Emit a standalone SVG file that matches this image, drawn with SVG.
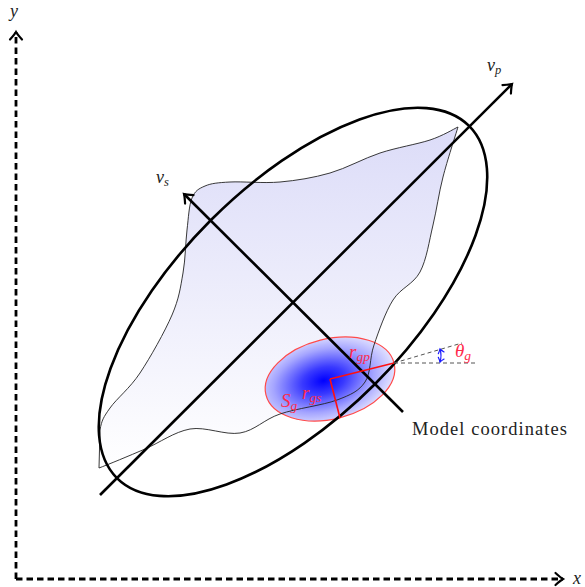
<svg xmlns="http://www.w3.org/2000/svg" width="585" height="587" viewBox="0 0 585 587">
<style>
.axis{fill:none;stroke:#000;stroke-width:2.8;stroke-dasharray:6.5 4}
.thick{fill:none;stroke:#000;stroke-width:2.6}
.math{font-family:"Liberation Serif","DejaVu Serif",serif;font-style:italic;fill:#222}
.plain{font-family:"Liberation Serif","DejaVu Serif",serif;fill:#222}
.red{font-family:"Liberation Serif","DejaVu Serif",serif;font-style:italic;fill:#ff2a4a}
.rline{fill:none;stroke:#ff1010;stroke-width:1.6}
.dash{fill:none;stroke:#555;stroke-width:1;stroke-dasharray:4 3}
</style>
<defs>
<marker id="ah" markerUnits="userSpaceOnUse" markerWidth="16" markerHeight="16" viewBox="-10 -8 12 16" refX="0" refY="0" orient="auto">
<path d="M -7.5,-6 Q -2.5,-1.5 0,0 Q -2.5,1.5 -7.5,6" fill="none" stroke="#000" stroke-width="2.2" stroke-linecap="round"/>
</marker>
<marker id="bh" markerUnits="userSpaceOnUse" markerWidth="10" markerHeight="10" viewBox="-6 -5 8 10" refX="0" refY="0" orient="auto-start-reverse">
<path d="M -4,-3 Q -1.5,-0.8 0,0 Q -1.5,0.8 -4,3" fill="none" stroke="#1a1aff" stroke-width="1.2" stroke-linecap="round"/>
</marker>
<linearGradient id="blobfill" x1="0" y1="0" x2="0" y2="1">
<stop offset="0" stop-color="#dcdcf8"/>
<stop offset="1" stop-color="#ffffff"/>
</linearGradient>
<radialGradient id="gfill" cx="0.45" cy="0.5" r="0.55">
<stop offset="0" stop-color="#0000ff"/>
<stop offset="0.3" stop-color="#3a3aff"/>
<stop offset="0.7" stop-color="#a5a5ff"/>
<stop offset="1" stop-color="#e2e2ff"/>
</radialGradient>
</defs>

<g id="axes">
<line class="axis" x1="16" y1="579" x2="16" y2="32" marker-end="url(#ah)"/>
<line class="axis" x1="16" y1="579" x2="563" y2="579" marker-end="url(#ah)"/>
<text class="math" x="10" y="17" font-size="18">y</text>
<text class="math" x="573" y="584" font-size="18">x</text>
</g>

<g id="blob">
<path fill="url(#blobfill)" stroke="none" d="M99,468 C107,465 130,455.5 145,449 C160,442.5 174,432 190,429 C205.8,426.3 225,435.5 240,433 C255,430.5 263.8,419.5 280,414 C296,408.5 322.8,405.3 337,400 C351,394.7 358.8,391.2 365,382 C371.2,372.8 369.3,358.7 374,345 C378.7,331.3 385.3,312.2 393,300 C400.7,287.8 413.3,284.5 420,272 C426.7,259.5 429.2,240.8 433,225 C436.8,209.2 438.8,193.3 443,177 C447.2,160.7 455.5,135.3 458,127 C453.3,129.2 443,135.7 430,140 C417,144.3 396.7,147.5 380,153 C363.3,158.5 346.7,168.2 330,173 C313.3,177.8 296.7,180.5 280,182 C263.3,183.5 242.5,181.3 230,182 C217.5,182.7 211.3,183.3 205,186 C198.7,188.7 195,190.7 192,198 C189,205.3 188.5,217.5 187,230 C185.5,242.5 185.5,258.8 183,273 C180.5,287.2 179.2,298.3 172,315 C164.8,331.7 150.3,357.5 140,373 C129.7,388.5 116.7,398.5 110,408 C103.3,417.5 101.8,420 100,430 L99,468 Z"/>
</g>

<g id="gaussian">
<ellipse cx="0" cy="0" rx="66" ry="40" transform="translate(330,379) rotate(-14)" fill="url(#gfill)" stroke="#ff4a4a" stroke-width="1.2"/>
</g>

<g id="blob-outline">
<path fill="none" stroke="#222" stroke-width="0.9" d="M99,468 C107,465 130,455.5 145,449 C160,442.5 174,432 190,429 C205.8,426.3 225,435.5 240,433 C255,430.5 263.8,419.5 280,414 C296,408.5 322.8,405.3 337,400 C351,394.7 358.8,391.2 365,382 C371.2,372.8 369.3,358.7 374,345 C378.7,331.3 385.3,312.2 393,300 C400.7,287.8 413.3,284.5 420,272 C426.7,259.5 429.2,240.8 433,225 C436.8,209.2 438.8,193.3 443,177 C447.2,160.7 455.5,135.3 458,127 C453.3,129.2 443,135.7 430,140 C417,144.3 396.7,147.5 380,153 C363.3,158.5 346.7,168.2 330,173 C313.3,177.8 296.7,180.5 280,182 C263.3,183.5 242.5,181.3 230,182 C217.5,182.7 211.3,183.3 205,186 C198.7,188.7 195,190.7 192,198 C189,205.3 188.5,217.5 187,230 C185.5,242.5 185.5,258.8 183,273 C180.5,287.2 179.2,298.3 172,315 C164.8,331.7 150.3,357.5 140,373 C129.7,388.5 116.7,398.5 110,408 C103.3,417.5 101.8,420 100,430 L99,468 Z"/>
</g>

<g id="model-ellipse">
<ellipse class="thick" cx="0" cy="0" rx="249" ry="116" transform="translate(293,302) rotate(-45)"/>
</g>

<g id="connectors">
<line class="thick" x1="100" y1="495" x2="512" y2="84" marker-end="url(#ah)"/>
<line class="thick" x1="403" y1="412" x2="184" y2="194" marker-end="url(#ah)"/>
<line class="dash" x1="394" y1="363" x2="477" y2="363"/>
<line class="dash" x1="394" y1="363" x2="462" y2="343"/>
<path d="M440,349 Q442,355.5 440,362" fill="none" stroke="#1a1aff" stroke-width="1.2" marker-start="url(#bh)" marker-end="url(#bh)"/>
<line class="rline" x1="330" y1="379" x2="394" y2="363"/>
<line class="rline" x1="330" y1="379" x2="340" y2="418"/>
</g>

<g id="labels">
<text class="math" x="487" y="71" font-size="18">v<tspan font-size="12.5" dy="3">p</tspan></text>
<text class="math" x="156" y="183" font-size="18">v<tspan font-size="12.5" dy="3">s</tspan></text>
<text class="plain" x="412" y="435" font-size="18.5" textLength="155" lengthAdjust="spacing">Model coordinates</text>
<text class="red" x="349" y="358" font-size="19">r<tspan font-size="13.5" dy="3">gp</tspan></text>
<text class="red" x="302" y="399" font-size="19">r<tspan font-size="13.5" dy="3">gs</tspan></text>
<text class="red" x="281" y="407" font-size="19">S<tspan font-size="13.5" dy="3">g</tspan></text>
<text class="red" x="455" y="357" font-size="19">θ<tspan font-size="13.5" dy="3">g</tspan></text>
</g>
</svg>
